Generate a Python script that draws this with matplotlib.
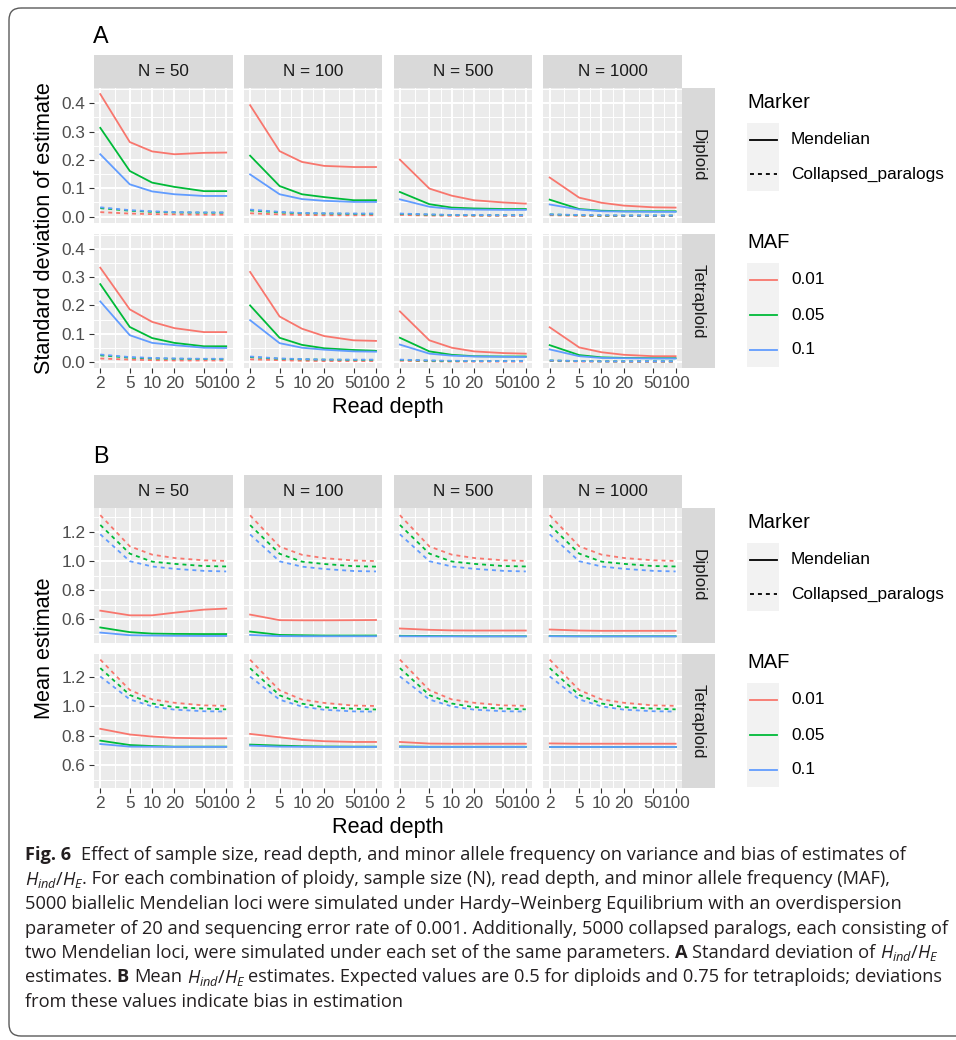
import numpy as np
import matplotlib
matplotlib.use('Agg')
import matplotlib.pyplot as plt
from matplotlib import font_manager
from matplotlib.patches import FancyBboxPatch, Rectangle
from matplotlib.ticker import NullFormatter

plt.rcParams['font.family'] = ['Liberation Sans', 'DejaVu Sans']

depths = [2, 5, 10, 20, 50, 100]
Ns = [50, 100, 500, 1000]
ploidies = ['Diploid', 'Tetraploid']
mafs = ['0.01', '0.05', '0.1']
maf_colors = ['#F8766D', '#00BA38', '#619CFF']

# A: standard deviation of estimate; per N -> per MAF (0.01, 0.05, 0.1)
sd_dip_mend = [
    [[0.432, 0.263, 0.230, 0.220, 0.225, 0.226],
     [0.313, 0.161, 0.120, 0.105, 0.090, 0.090],
     [0.220, 0.114, 0.089, 0.079, 0.073, 0.073]],
    [[0.393, 0.231, 0.193, 0.179, 0.175, 0.175],
     [0.215, 0.108, 0.079, 0.069, 0.058, 0.058],
     [0.149, 0.079, 0.062, 0.056, 0.052, 0.052]],
    [[0.201, 0.099, 0.074, 0.058, 0.050, 0.046],
     [0.087, 0.044, 0.032, 0.029, 0.027, 0.027],
     [0.061, 0.035, 0.027, 0.025, 0.024, 0.024]],
    [[0.138, 0.067, 0.049, 0.039, 0.033, 0.032],
     [0.060, 0.027, 0.021, 0.019, 0.019, 0.019],
     [0.043, 0.025, 0.019, 0.018, 0.017, 0.017]],
]
sd_dip_coll = [
    [[0.016, 0.011, 0.009, 0.008, 0.007, 0.007],
     [0.030, 0.021, 0.017, 0.015, 0.014, 0.014],
     [0.033, 0.023, 0.019, 0.016, 0.015, 0.015]],
    [[0.012, 0.008, 0.006, 0.005, 0.005, 0.005],
     [0.022, 0.015, 0.012, 0.011, 0.010, 0.010],
     [0.025, 0.017, 0.013, 0.012, 0.011, 0.011]],
    [[0.006, 0.004, 0.003, 0.003, 0.003, 0.003],
     [0.010, 0.007, 0.006, 0.005, 0.005, 0.005],
     [0.011, 0.008, 0.006, 0.006, 0.005, 0.005]],
    [[0.005, 0.003, 0.002, 0.002, 0.002, 0.002],
     [0.008, 0.005, 0.004, 0.004, 0.004, 0.004],
     [0.008, 0.006, 0.005, 0.004, 0.004, 0.004]],
]
sd_tet_mend = [
    [[0.333, 0.186, 0.142, 0.120, 0.106, 0.106],
     [0.275, 0.124, 0.085, 0.068, 0.056, 0.056],
     [0.214, 0.095, 0.068, 0.060, 0.051, 0.050]],
    [[0.318, 0.161, 0.118, 0.092, 0.077, 0.075],
     [0.200, 0.086, 0.061, 0.049, 0.043, 0.040],
     [0.148, 0.067, 0.051, 0.044, 0.038, 0.037]],
    [[0.179, 0.077, 0.051, 0.038, 0.032, 0.030],
     [0.086, 0.038, 0.026, 0.021, 0.020, 0.020],
     [0.062, 0.030, 0.023, 0.020, 0.019, 0.018]],
    [[0.123, 0.052, 0.035, 0.026, 0.021, 0.021],
     [0.060, 0.025, 0.017, 0.015, 0.014, 0.014],
     [0.045, 0.021, 0.015, 0.014, 0.013, 0.013]],
]
sd_tet_coll = [
    [[0.013, 0.009, 0.007, 0.006, 0.006, 0.006],
     [0.024, 0.016, 0.013, 0.012, 0.011, 0.011],
     [0.027, 0.018, 0.015, 0.013, 0.012, 0.012]],
    [[0.010, 0.007, 0.005, 0.004, 0.004, 0.004],
     [0.018, 0.012, 0.010, 0.009, 0.008, 0.008],
     [0.020, 0.013, 0.011, 0.009, 0.009, 0.009]],
    [[0.005, 0.003, 0.002, 0.002, 0.002, 0.002],
     [0.008, 0.005, 0.004, 0.004, 0.004, 0.004],
     [0.009, 0.006, 0.005, 0.004, 0.004, 0.004]],
    [[0.004, 0.002, 0.002, 0.001, 0.001, 0.001],
     [0.006, 0.004, 0.003, 0.003, 0.003, 0.003],
     [0.006, 0.004, 0.003, 0.003, 0.003, 0.003]],
]

# B: mean estimate
mean_dip_mend = [
    [[0.660, 0.628, 0.628, 0.646, 0.667, 0.674],
     [0.545, 0.513, 0.503, 0.501, 0.500, 0.500],
     [0.510, 0.492, 0.490, 0.488, 0.487, 0.487]],
    [[0.633, 0.595, 0.594, 0.594, 0.595, 0.596],
     [0.517, 0.494, 0.492, 0.490, 0.490, 0.490],
     [0.494, 0.486, 0.485, 0.485, 0.485, 0.485]],
    [[0.538, 0.529, 0.525, 0.524, 0.524, 0.524],
     [0.488, 0.487, 0.486, 0.485, 0.485, 0.485],
     [0.485, 0.484, 0.484, 0.484, 0.484, 0.484]],
    [[0.531, 0.524, 0.522, 0.522, 0.522, 0.522],
     [0.486, 0.485, 0.485, 0.485, 0.485, 0.485],
     [0.485, 0.484, 0.484, 0.484, 0.484, 0.484]],
]
mean_dip_coll = [
    [[1.313, 1.100, 1.043, 1.020, 1.004, 1.000],
     [1.246, 1.050, 0.995, 0.980, 0.965, 0.962],
     [1.182, 0.998, 0.962, 0.946, 0.932, 0.928]],
    [[1.312, 1.098, 1.042, 1.019, 1.003, 0.999],
     [1.245, 1.049, 0.995, 0.979, 0.964, 0.961],
     [1.181, 0.997, 0.961, 0.945, 0.931, 0.928]],
    [[1.313, 1.099, 1.043, 1.020, 1.004, 1.000],
     [1.246, 1.050, 0.996, 0.980, 0.965, 0.962],
     [1.182, 0.998, 0.962, 0.946, 0.932, 0.928]],
    [[1.313, 1.100, 1.043, 1.020, 1.004, 1.000],
     [1.246, 1.050, 0.995, 0.980, 0.965, 0.962],
     [1.182, 0.998, 0.962, 0.946, 0.932, 0.928]],
]
mean_tet_mend = [
    [[0.847, 0.808, 0.794, 0.785, 0.782, 0.782],
     [0.766, 0.736, 0.729, 0.725, 0.725, 0.725],
     [0.743, 0.725, 0.724, 0.723, 0.723, 0.723]],
    [[0.812, 0.789, 0.771, 0.762, 0.757, 0.757],
     [0.739, 0.732, 0.728, 0.726, 0.725, 0.725],
     [0.732, 0.725, 0.724, 0.723, 0.723, 0.723]],
    [[0.757, 0.746, 0.745, 0.745, 0.745, 0.745],
     [0.726, 0.724, 0.724, 0.724, 0.724, 0.724],
     [0.724, 0.723, 0.723, 0.723, 0.723, 0.723]],
    [[0.747, 0.745, 0.745, 0.745, 0.745, 0.745],
     [0.724, 0.724, 0.724, 0.724, 0.724, 0.724],
     [0.723, 0.723, 0.723, 0.723, 0.723, 0.723]],
]
mean_tet_coll = [
    [[1.320, 1.112, 1.048, 1.025, 1.007, 1.004],
     [1.262, 1.078, 1.020, 0.995, 0.985, 0.980],
     [1.205, 1.048, 1.000, 0.978, 0.967, 0.965]],
    [[1.319, 1.110, 1.047, 1.024, 1.006, 1.003],
     [1.261, 1.076, 1.019, 0.994, 0.984, 0.979],
     [1.204, 1.046, 0.999, 0.977, 0.966, 0.964]],
    [[1.320, 1.111, 1.048, 1.025, 1.007, 1.004],
     [1.262, 1.077, 1.020, 0.995, 0.985, 0.980],
     [1.205, 1.047, 1.000, 0.978, 0.967, 0.965]],
    [[1.320, 1.112, 1.048, 1.025, 1.007, 1.004],
     [1.262, 1.078, 1.020, 0.995, 0.985, 0.980],
     [1.205, 1.048, 1.000, 0.978, 0.967, 0.965]],
]

W, H = 956, 1040
fig = plt.figure(figsize=(W / 100, H / 100), dpi=100)
fig.patch.set_facecolor('white')


def box(x, y, w, h):
    return [x / W, 1 - (y + h) / H, w / W, h / H]


ov = fig.add_axes([0, 0, 1, 1], zorder=5)
ov.set_xlim(0, W)
ov.set_ylim(H, 0)
ov.axis('off')

ov.add_patch(FancyBboxPatch((9, 8), 990, 1028, boxstyle='round,pad=0,rounding_size=12',
                            ec='#5a5a5a', fc='none', lw=1.0))

X0, PW, GX = 94, 138.5, 11.3
Y0, PH, GY = 88, 134.5, 11
TXT = '#1A1A1A'


def expand(lo, hi):
    r = hi - lo
    return lo - 0.05 * r, hi + 0.05 * r


lx = np.log10(depths)
xlo, xhi = 10 ** np.array(expand(lx.min(), lx.max()))
mids = (lx[:-1] + lx[1:]) / 2
xminor = 10 ** mids


def draw_panel(dy, mend, coll, yticks, yminor, ylabel, letter):
    vals = np.concatenate([np.ravel(a) for a in mend + coll])
    ylo, yhi = expand(vals.min(), vals.max())
    for r, ploidy in enumerate(ploidies):
        for c, n in enumerate(Ns):
            x = X0 + c * (PW + GX)
            y = dy + Y0 + r * (PH + GY)
            ax = fig.add_axes(box(x, y, PW, PH))
            ax.set_facecolor('#EBEBEB')
            for m in range(len(mafs)):
                ax.plot(depths, coll[r][c][m], color=maf_colors[m], lw=1.3,
                        dashes=(2.2, 2.2))
                ax.plot(depths, mend[r][c][m], color=maf_colors[m], lw=1.3)
            ax.set_xscale('log')
            ax.set_xlim(xlo, xhi)
            ax.set_ylim(ylo, yhi)
            ax.set_xticks(depths, [str(d) for d in depths])
            ax.set_xticks(xminor, minor=True)
            ax.xaxis.set_minor_formatter(NullFormatter())
            ax.set_yticks(yticks, ['%.1f' % v for v in yticks])
            ax.set_yticks([v for v in yminor if ylo < v < yhi], minor=True)
            ax.grid(which='major', color='white', lw=1.4)
            ax.grid(which='minor', color='white', lw=0.7)
            ax.set_axisbelow(True)
            for s in ax.spines.values():
                s.set_visible(False)
            ax.tick_params(which='minor', length=0)
            ax.tick_params(which='major', length=3.6, width=0.8, color='#333333',
                           labelcolor='#4D4D4D', labelsize=12.4, pad=2.5)
            if c > 0:
                ax.tick_params(axis='y', length=0, labelleft=False)
            if r == 0:
                ax.tick_params(axis='x', length=0, labelbottom=False)
            if r == 0:
                st = fig.add_axes(box(x, dy + 55, PW, 33))
                st.set_facecolor('#D9D9D9')
                st.set_xticks([])
                st.set_yticks([])
                for s in st.spines.values():
                    s.set_visible(False)
                st.text(0.5, 0.5, 'N = %d' % n, ha='center', va='center',
                        fontsize=12.3, color=TXT, transform=st.transAxes)
        rs = fig.add_axes(box(X0 + 4 * PW + 3 * GX, dy + Y0 + r * (PH + GY), 33, PH))
        rs.set_facecolor('#D9D9D9')
        rs.set_xticks([])
        rs.set_yticks([])
        for s in rs.spines.values():
            s.set_visible(False)
        rs.text(0.5, 0.5, ploidy, ha='center', va='center', rotation=-90,
                fontsize=12.3, color=TXT, transform=rs.transAxes)

    ov.text(93, dy + 43, letter, fontsize=16.8, ha='left', va='baseline')
    ov.text(45, dy + Y0 + PH + GY / 2, ylabel, rotation=90, fontsize=15.6,
            ha='center', va='center')
    ov.text(X0 + (4 * PW + 3 * GX) / 2, dy + 408, 'Read depth', fontsize=15.6,
            ha='center', va='center')

    # legends
    ov.text(747, dy + 103, 'Marker', fontsize=14.5, va='center', ha='left')
    ov.add_patch(Rectangle((747, dy + 123), 32.5, 68, fc='#F2F2F2', ec='none'))
    for i, (lab, d) in enumerate([('Mendelian', None), ('Collapsed_paralogs', (2.2, 2.2))]):
        yy = dy + 140 + 34 * i
        ln, = ov.plot([750, 777], [yy, yy], color='black', lw=1.3)
        if d:
            ln.set_dashes(d)
        ov.text(791, yy, lab, fontsize=12.4, va='center', ha='left')
    ov.text(747, dy + 243, 'MAF', fontsize=14.5, va='center', ha='left')
    ov.add_patch(Rectangle((747, dy + 263), 32.5, 104, fc='#F2F2F2', ec='none'))
    for i, lab in enumerate(mafs):
        yy = dy + 280 + 35 * i
        ov.plot([750, 777], [yy, yy], color=maf_colors[i], lw=1.3)
        ov.text(791, yy, lab, fontsize=12.4, va='center', ha='left')


draw_panel(0, [sd_dip_mend, sd_tet_mend], [sd_dip_coll, sd_tet_coll],
           [0.0, 0.1, 0.2, 0.3, 0.4], [0.05, 0.15, 0.25, 0.35, 0.45],
           'Standard deviation of estimate', 'A')
draw_panel(420, [mean_dip_mend, mean_tet_mend], [mean_dip_coll, mean_tet_coll],
           [0.6, 0.8, 1.0, 1.2], [0.5, 0.7, 0.9, 1.1, 1.3],
           'Mean estimate', 'B')

# caption
cap_font = 'Open Sans'
for cand in ['Liberation Sans Narrow', 'Open Sans']:
    try:
        font_manager.findfont(cand, fallback_to_default=False)
        cap_font = cand
        break
    except Exception:
        pass
plt.rcParams['mathtext.fontset'] = 'custom'
plt.rcParams['mathtext.it'] = cap_font + ':italic'
plt.rcParams['mathtext.rm'] = cap_font

HE = r'$H_{ind}/H_E$'
cap_lines = [
    [('Fig. 6', 'b'), ('  Effect of sample size, read depth, and minor allele frequency on variance and bias of estimates of', 'n')],
    [(HE, 'm'), ('. For each combination of ploidy, sample size (N), read depth, and minor allele frequency (MAF),', 'n')],
    [('5000 biallelic Mendelian loci were simulated under Hardy\u2013Weinberg Equilibrium with an overdispersion', 'n')],
    [('parameter of 20 and sequencing error rate of 0.001. Additionally, 5000 collapsed paralogs, each consisting of', 'n')],
    [('two Mendelian loci, were simulated under each set of the same parameters. ', 'n'), ('A', 'b'),
     (' Standard deviation of ', 'n'), (HE, 'm')],
    [('estimates. ', 'n'), ('B', 'b'), (' Mean ', 'n'), (HE, 'm'),
     (' estimates. Expected values are 0.5 for diploids and 0.75 for tetraploids; deviations', 'n')],
    [('from these values indicate bias in estimation', 'n')],
]

renderer = fig.canvas.get_renderer()


def text_w(s, fs, weight='normal'):
    t = ov.text(0, 0, s, fontsize=fs, family=cap_font, weight=weight)
    w = t.get_window_extent(renderer=renderer).width
    t.remove()
    return w


ref_w = text_w(cap_lines[3][0][0], 12)
cap_fs = 12 * 918 / ref_w
space_w = text_w('a a', cap_fs) - text_w('aa', cap_fs)

for i, segs in enumerate(cap_lines):
    x = 25
    yb = 860 + i * 24.5
    for s, kind in segs:
        lead = len(s) - len(s.lstrip(' '))
        trail = len(s) - len(s.rstrip(' '))
        core = s.strip(' ')
        x += lead * space_w
        wt = 'bold' if kind == 'b' else 'normal'
        t = ov.text(x, yb, core, fontsize=cap_fs, family=cap_font, weight=wt,
                    va='baseline', ha='left', color='#231F20')
        w = t.get_window_extent(renderer=renderer).width
        if kind == 'm':
            w -= 2.5
        x += w + trail * space_w

fig.savefig('out.png', dpi=100)
